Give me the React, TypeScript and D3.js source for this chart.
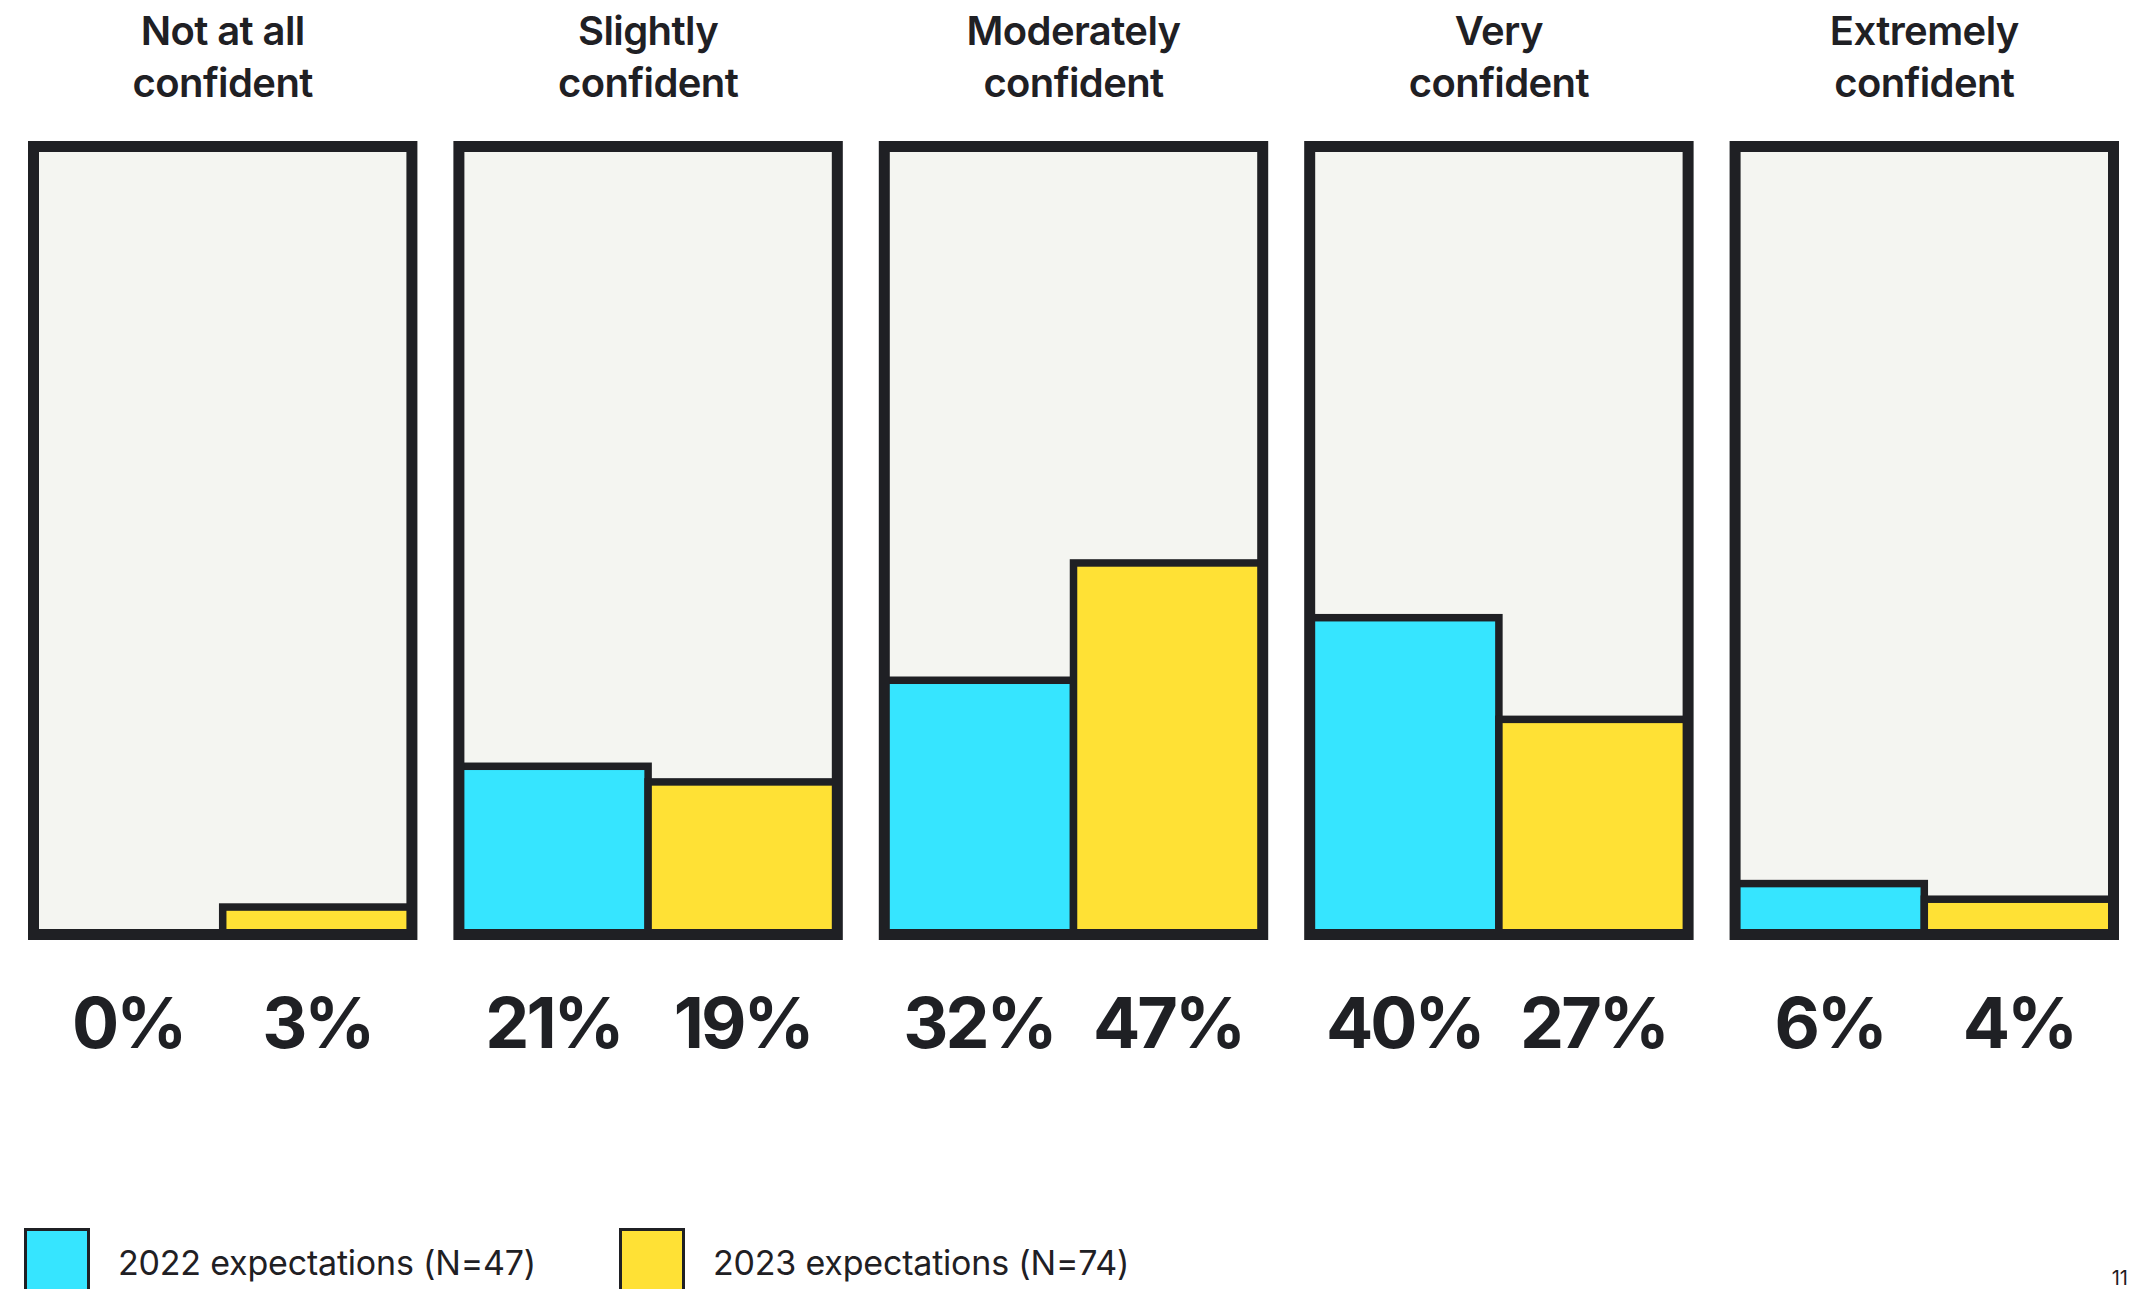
import * as d3 from 'd3'

const WIDTH = 2131
const HEIGHT = 1289

const CATEGORIES = [
  ['Not at all', 'confident'],
  ['Slightly', 'confident'],
  ['Moderately', 'confident'],
  ['Very', 'confident'],
  ['Extremely', 'confident'],
]
const SERIES = ['2022 expectations (N=47)', '2023 expectations (N=74)']
const VALUES_2022 = [0, 21, 32, 40, 6]
const VALUES_2023 = [3, 19, 47, 27, 4]

const COLORS = ['#36E5FF', '#FFE135']
const DARK = '#1F2024'
const PANEL_FILL = '#F4F5F1'
const FONT = 'Inter, "Noto Sans", sans-serif'

const PANEL_TOP = 141
const PANEL_BOTTOM = 940
const PANEL_STROKE = 11
const BAR_STROKE = 7.5

export default function App() {
  const keys = CATEGORIES.map(c => c.join(' '))
  const seriesValues = [VALUES_2022, VALUES_2023]

  const xPanel = d3.scaleBand<string>()
    .domain(keys)
    .range([28, 2119])
    .paddingInner(0.0846)

  const bw = xPanel.bandwidth()

  const xSub = d3.scaleBand<string>()
    .domain(SERIES)
    .range([PANEL_STROKE / 2, bw - PANEL_STROKE / 2])

  const y = d3.scaleLinear()
    .domain([0, 100])
    .range([930.5, 148.5])

  const baseY = PANEL_BOTTOM - PANEL_STROKE / 2

  return (
    <svg
      width={WIDTH}
      height={HEIGHT}
      style={{ position: 'absolute', left: 0, top: 0, background: '#fff' }}
      fontFamily={FONT}
    >
      {keys.map((key, i) => {
        const x0 = xPanel(key)!
        const cx = x0 + bw / 2
        return (
          <g key={key}>
            {/* title */}
            <text x={cx} textAnchor="middle" fontSize={40} fontWeight={600} fill={DARK} letterSpacing={-0.6}>
              <tspan x={cx} y={45}>{CATEGORIES[i][0]}</tspan>
              <tspan x={cx} y={97}>{CATEGORIES[i][1]}</tspan>
            </text>

            {/* panel background */}
            <rect
              x={x0 + PANEL_STROKE / 2}
              y={PANEL_TOP + PANEL_STROKE / 2}
              width={bw - PANEL_STROKE}
              height={PANEL_BOTTOM - PANEL_TOP - PANEL_STROKE}
              fill={PANEL_FILL}
            />

            {/* bars */}
            {SERIES.map((s, j) => {
              const v = seriesValues[j][i]
              if (v <= 0) return null
              return (
                <rect
                  key={s}
                  x={x0 + xSub(s)!}
                  y={y(v)}
                  width={xSub.bandwidth()}
                  height={baseY - y(v)}
                  fill={COLORS[j]}
                  stroke={DARK}
                  strokeWidth={BAR_STROKE}
                />
              )
            })}

            {/* panel border */}
            <rect
              x={x0 + PANEL_STROKE / 2}
              y={PANEL_TOP + PANEL_STROKE / 2}
              width={bw - PANEL_STROKE}
              height={PANEL_BOTTOM - PANEL_TOP - PANEL_STROKE}
              fill="none"
              stroke={DARK}
              strokeWidth={PANEL_STROKE}
            />

            {/* value labels */}
            {SERIES.map((s, j) => (
              <text
                key={s}
                x={x0 + xSub(s)! + xSub.bandwidth() / 2}
                y={1048}
                textAnchor="middle"
                fontSize={70}
                fontWeight={700}
                fill={DARK}
                letterSpacing={-3}
              >
                {`${seriesValues[j][i]}%`}
              </text>
            ))}
          </g>
        )
      })}

      {/* legend */}
      {SERIES.map((s, j) => {
        const lx = j === 0 ? 24 : 619
        return (
          <g key={s}>
            <rect x={lx + 1.5} y={1229.5} width={63} height={63} fill={COLORS[j]} stroke={DARK} strokeWidth={3} />
            <text x={lx + 94} y={1275} fontSize={34} fill={DARK} letterSpacing={-0.2}>{s}</text>
          </g>
        )
      })}

      {/* page number */}
      <text x={2128} y={1285} textAnchor="end" fontSize={20} fill={DARK}>11</text>
    </svg>
  )
}
